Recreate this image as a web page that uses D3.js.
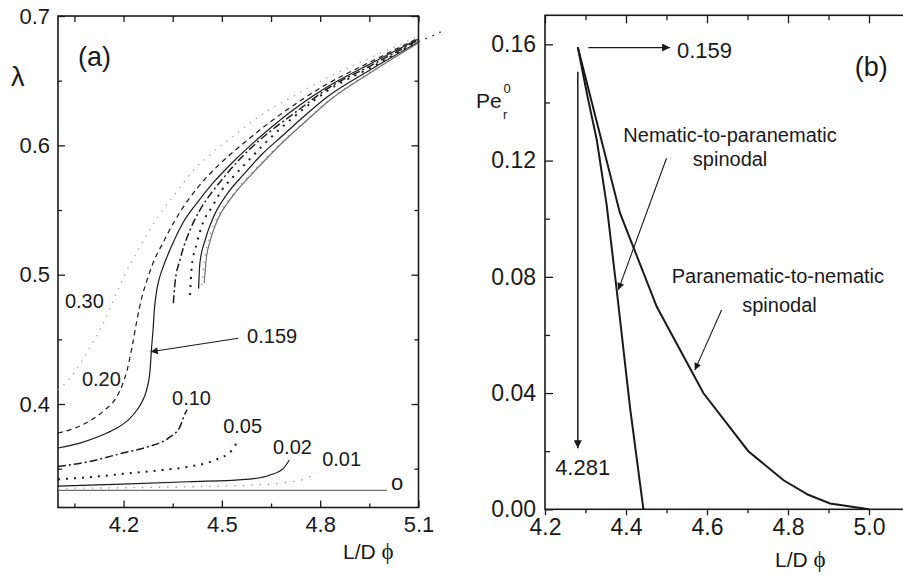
<!DOCTYPE html>
<html><head><meta charset="utf-8">
<script src="https://cdn.jsdelivr.net/npm/d3@7"></script>
<style>
body{margin:0;background:#fff}
svg{display:block}
text{font-family:"Liberation Sans",Arial,sans-serif;fill:#1a1a1a}
</style>
</head><body>
<svg id="c" width="903" height="580"></svg>
<script>
// ---------- Panel (a) data ----------
const xTicksA = [4.2, 4.5, 4.8, 5.1];
const xMinorA = [4.05, 4.35, 4.65, 4.95];
const yTicksA = [0.4, 0.5, 0.6, 0.7];
const yMinorA = [0.35, 0.45, 0.55, 0.65];

// Pe = 0.30 (light grey dotted)
const pe030_x = [4.000,4.037,4.067,4.098,4.128,4.153,4.180,4.208,4.238,4.272,4.311,4.357,4.409,4.470,4.540,4.616,4.708,4.821,4.952,5.100];
const pe030_y = [0.4108,0.4201,0.4309,0.4441,0.4572,0.4704,0.4866,0.5021,0.5160,0.5314,0.5469,0.5624,0.5794,0.5941,0.6080,0.6227,0.6366,0.6521,0.6675,0.6845];
// Pe = 0.20 (dashed)
const pe020_x = [4.000,4.052,4.101,4.146,4.177,4.195,4.211,4.226,4.241,4.256,4.269,4.290,4.320,4.354,4.397,4.446,4.500,4.571,4.616,4.738,4.821,4.952,5.100];
const pe020_y = [0.3776,0.3814,0.3876,0.3961,0.4046,0.4139,0.4263,0.4441,0.4650,0.4827,0.4936,0.5090,0.5245,0.5407,0.5577,0.5732,0.5871,0.6026,0.6119,0.6343,0.6474,0.6644,0.6830];
// Pe = 0.159 (solid)
const pe0159_x = [4.000,4.067,4.128,4.174,4.214,4.241,4.259,4.272,4.281,4.285,4.290,4.294,4.299,4.308,4.323,4.348,4.381,4.424,4.473,4.540,4.616,4.738,4.821,4.952,5.100];
const pe0159_y = [0.3660,0.3698,0.3753,0.3807,0.3876,0.3954,0.4031,0.4124,0.4263,0.4418,0.4572,0.4727,0.4843,0.4959,0.5075,0.5229,0.5400,0.5554,0.5709,0.5887,0.6064,0.6312,0.6451,0.6629,0.6822];
// Pe = 0.10 (dash-dot), lower and upper branch
const pe010lo_x = [4.000,4.092,4.195,4.275,4.336,4.372,4.388,4.394];
const pe010lo_y = [0.3517,0.3554,0.3619,0.3670,0.3735,0.3824,0.3928,0.3954];
const pe010up_x = [4.352,4.357,4.372,4.403,4.433,4.470,4.507,4.555,4.616,4.738,4.821,4.952,5.100];
const pe010up_y = [0.4779,0.4936,0.5113,0.5345,0.5500,0.5639,0.5755,0.5895,0.6041,0.6281,0.6436,0.6613,0.6815];
// Pe = 0.05 (dotted)
const pe005lo_x = [4.000,4.092,4.195,4.296,4.397,4.479,4.531,4.550];
const pe005lo_y = [0.3418,0.3433,0.3459,0.3484,0.3515,0.3567,0.3644,0.3722];
const pe005up_x = [4.403,4.408,4.424,4.442,4.470,4.500,4.534,4.577,4.623,4.738,4.821,4.952,5.100];
const pe005up_y = [0.4843,0.5059,0.5245,0.5400,0.5523,0.5655,0.5755,0.5871,0.5995,0.6258,0.6420,0.6598,0.6807];
// Pe = 0.02 (solid)
const pe002lo_x = [4.000,4.195,4.397,4.586,4.647,4.688,4.706];
const pe002lo_y = [0.3366,0.3381,0.3399,0.3420,0.3451,0.3503,0.3567];
const pe002up_x = [4.429,4.433,4.449,4.473,4.516,4.565,4.623,4.684,4.738,4.821,4.952,5.100];
const pe002up_y = [0.4893,0.5090,0.5268,0.5438,0.5624,0.5771,0.5933,0.6072,0.6196,0.6374,0.6583,0.6799];
// Pe = 0.01 (grey dotted)
const pe001lo_x = [4.000,4.296,4.601,4.688,4.749,4.789];
const pe001lo_y = [0.3348,0.3356,0.3374,0.3391,0.3418,0.3469];
const pe001up_x = [4.439,4.446,4.458,4.482,4.525,4.574,4.632,4.687,4.748,4.824,4.952,5.100];
const pe001up_y = [0.4920,0.5098,0.5253,0.5423,0.5593,0.5740,0.5894,0.6033,0.6173,0.6343,0.6567,0.6795];
// Pe = 0 (grey solid): isotropic line and nematic branch
const pe0lo_x = [4.000, 5.004];
const pe0lo_y = [0.3333, 0.3333];
const pe0up_x = [4.446,4.452,4.464,4.488,4.531,4.580,4.638,4.693,4.754,4.830,4.952,5.100];
const pe0up_y = [0.4936,0.5113,0.5260,0.5430,0.5601,0.5747,0.5902,0.6041,0.6181,0.6351,0.6559,0.6791];
// continuation beyond the frame (dotted)
const ext_x = [5.100, 5.181];
const ext_y = [0.6799, 0.6892];

const labelsA = ["0.30","0.20","0.159","0.10","0.05","0.02","0.01","o"];
const labelsA_x = [4.021,4.073,4.577,4.348,4.504,4.656,4.806,5.016];
const labelsA_y = [0.4742,0.4139,0.4472,0.3992,0.3776,0.3613,0.3521,0.3335];

// ---------- Panel (b) data ----------
const xTicksB = [4.2, 4.4, 4.6, 4.8, 5.0];
const xMinorB = [4.3, 4.5, 4.7, 4.9];
const yTicksB = [0.00, 0.04, 0.08, 0.12, 0.16];
const yMinorB = [0.02, 0.06, 0.10, 0.14];
// Nematic-to-paranematic spinodal
const n2p_x = [4.281,4.305,4.328,4.352,4.377,4.410,4.443];
const n2p_y = [0.159,0.142,0.127,0.105,0.0755,0.035,0.000];
// Paranematic-to-nematic spinodal
const p2n_x = [4.281,4.385,4.476,4.591,4.702,4.789,4.850,4.904,5.000];
const p2n_y = [0.159,0.102,0.0697,0.040,0.020,0.010,0.005,0.002,0.000];

// ---------- drawing ----------
const svg = d3.select("#c");
const ink = "#1a1a1a";
const serif = '"Liberation Serif","DejaVu Serif",serif';

const xA = d3.scaleLinear().domain([4.0, 5.1]).range([58, 418.5]);
const yA = d3.scaleLinear().domain([0.32, 0.7]).range([507.5, 16]);
const xB = d3.scaleLinear().domain([4.2, 5.1]).range([545, 909.5]);
const yB = d3.scaleLinear().domain([0, 0.17]).range([509.3, 15.3]);

function styleAxis(g, size) {
  g.select(".domain").remove();
  g.selectAll("line").attr("stroke", ink).attr("stroke-width", 1.3);
  g.selectAll("text").attr("font-size", size).attr("fill", ink)
    .attr("font-family", '"Liberation Sans",Arial,sans-serif');
}

// Panel A axes
const gA = svg.append("g");
const fmt1 = d3.format(".1f");
gA.append("g").attr("transform", `translate(0,${yA.range()[0]})`)
  .call(d3.axisBottom(xA).tickValues(xTicksA).tickSize(-7).tickPadding(9).tickFormat(fmt1))
  .call(g => styleAxis(g, 22));
gA.append("g").attr("transform", `translate(0,${yA.range()[0]})`)
  .call(d3.axisBottom(xA).tickValues(xMinorA).tickSize(-4).tickFormat(""))
  .call(g => styleAxis(g, 22));
gA.append("g").attr("transform", `translate(0,${yA.range()[1]})`)
  .call(d3.axisTop(xA).tickValues(xTicksA.concat(xMinorA)).tickSize(-6).tickFormat(""))
  .call(g => styleAxis(g, 22));
gA.append("g").attr("transform", `translate(${xA.range()[0]},0)`)
  .call(d3.axisLeft(yA).tickValues(yTicksA).tickSize(-7).tickPadding(8).tickFormat(fmt1))
  .call(g => styleAxis(g, 22));
gA.append("g").attr("transform", `translate(${xA.range()[0]},0)`)
  .call(d3.axisLeft(yA).tickValues(yMinorA).tickSize(-4).tickFormat(""))
  .call(g => styleAxis(g, 22));
gA.append("g").attr("transform", `translate(${xA.range()[1]},0)`)
  .call(d3.axisRight(yA).tickValues(yTicksA).tickSize(-7).tickFormat(""))
  .call(g => styleAxis(g, 22));
gA.append("g").attr("transform", `translate(${xA.range()[1]},0)`)
  .call(d3.axisRight(yA).tickValues(yMinorA).tickSize(-4).tickFormat(""))
  .call(g => styleAxis(g, 22));
gA.append("rect").attr("x", xA.range()[0]).attr("y", yA.range()[1])
  .attr("width", xA.range()[1] - xA.range()[0]).attr("height", yA.range()[0] - yA.range()[1])
  .attr("fill", "none").attr("stroke", ink).attr("stroke-width", 1.6);

const lineA = d3.line().x(d => xA(d[0])).y(d => yA(d[1])).curve(d3.curveMonotoneX);
const zip = (xs, ys) => xs.map((v, i) => [v, ys[i]]);

const seriesA = [
  {x: pe030_x, y: pe030_y, c: "#a8a8a8", w: 1.3, d: "1.4,6"},
  {x: pe020_x, y: pe020_y, c: ink, w: 1.2, d: "5,4"},
  {x: pe0159_x, y: pe0159_y, c: ink, w: 1.2, d: null},
  {x: pe010lo_x, y: pe010lo_y, c: ink, w: 1.5, d: "8,3,2,3"},
  {x: pe010up_x, y: pe010up_y, c: ink, w: 1.5, d: "8,3,2,3"},
  {x: pe005lo_x, y: pe005lo_y, c: ink, w: 2, d: "2,6"},
  {x: pe005up_x, y: pe005up_y, c: ink, w: 2, d: "2,6"},
  {x: pe002lo_x, y: pe002lo_y, c: ink, w: 1.2, d: null},
  {x: pe002up_x, y: pe002up_y, c: ink, w: 1.2, d: null},
  {x: pe001lo_x, y: pe001lo_y, c: "#9a9a9a", w: 1.3, d: "1.4,7"},
  {x: pe001up_x, y: pe001up_y, c: "#9a9a9a", w: 1.3, d: "1.4,6"},
  {x: pe0lo_x, y: pe0lo_y, c: "#6f6f6f", w: 1.3, d: null},
  {x: pe0up_x, y: pe0up_y, c: "#6f6f6f", w: 1.2, d: null},
  {x: ext_x, y: ext_y, c: "#333", w: 1.5, d: "1.6,6"}
];
seriesA.forEach(s => {
  gA.append("path").attr("d", lineA(zip(s.x, s.y)))
    .attr("fill", "none").attr("stroke", s.c).attr("stroke-width", s.w)
    .attr("stroke-dasharray", s.d);
});

// arrow markers
const defs = svg.append("defs");
defs.append("marker").attr("id", "ah").attr("viewBox", "0 0 10 10")
  .attr("refX", 10).attr("refY", 5).attr("markerWidth", 10).attr("markerHeight", 7)
  .attr("markerUnits", "userSpaceOnUse").attr("orient", "auto")
  .append("path").attr("d", "M0,0 L10,5 L0,10 z").attr("fill", ink);
defs.append("marker").attr("id", "ahb").attr("viewBox", "0 0 10 10")
  .attr("refX", 10).attr("refY", 5).attr("markerWidth", 13).attr("markerHeight", 8)
  .attr("markerUnits", "userSpaceOnUse").attr("orient", "auto")
  .append("path").attr("d", "M0,0 L10,5 L0,10 z").attr("fill", ink);

gA.append("line").attr("x1", xA(4.550)).attr("y1", yA(0.4508))
  .attr("x2", xA(4.283)).attr("y2", yA(0.4404))
  .attr("stroke", ink).attr("stroke-width", 1.1).attr("marker-end", "url(#ah)");

labelsA.forEach((t, i) => {
  gA.append("text").attr("x", xA(labelsA_x[i])).attr("y", yA(labelsA_y[i]))
    .attr("font-size", t === "o" ? 22 : 20).text(t);
});
gA.append("text").attr("x", 78).attr("y", 66).attr("font-size", 27).text("(a)");
gA.append("text").attr("x", 11).attr("y", 86).attr("font-size", 27)
  .attr("font-family", serif).text("λ");
const tA = gA.append("text").attr("x", 343).attr("y", 559).attr("font-size", 21);
tA.append("tspan").text("L/D ");
tA.append("tspan").attr("font-family", serif).attr("font-size", 23).text("ϕ");

// Panel B axes
const gB = svg.append("g");
const fmt2 = d3.format(".2f");
gB.append("g").attr("transform", `translate(0,${yB.range()[0]})`)
  .call(d3.axisBottom(xB).tickValues(xTicksB).tickSize(6).tickPadding(3).tickFormat(fmt1))
  .call(g => styleAxis(g, 23));
gB.append("g").attr("transform", `translate(0,${yB.range()[0]})`)
  .call(d3.axisBottom(xB).tickValues(xMinorB).tickSize(4).tickFormat(""))
  .call(g => styleAxis(g, 23));
gB.append("g").attr("transform", `translate(0,${yB.range()[1]})`)
  .call(d3.axisTop(xB).tickValues(xTicksB).tickSize(-8).tickFormat(""))
  .call(g => styleAxis(g, 23));
gB.append("g").attr("transform", `translate(0,${yB.range()[1]})`)
  .call(d3.axisTop(xB).tickValues(xMinorB).tickSize(-5).tickFormat(""))
  .call(g => styleAxis(g, 23));
gB.append("g").attr("transform", `translate(${xB.range()[0]},0)`)
  .call(d3.axisLeft(yB).tickValues(yTicksB).tickSize(-8).tickPadding(9).tickFormat(fmt2))
  .call(g => styleAxis(g, 23));
gB.append("g").attr("transform", `translate(${xB.range()[0]},0)`)
  .call(d3.axisLeft(yB).tickValues(yMinorB).tickSize(-5).tickFormat(""))
  .call(g => styleAxis(g, 23));
gB.append("rect").attr("x", xB.range()[0]).attr("y", yB.range()[1])
  .attr("width", xB.range()[1] - xB.range()[0]).attr("height", yB.range()[0] - yB.range()[1])
  .attr("fill", "none").attr("stroke", ink).attr("stroke-width", 1.6);

const lineB = d3.line().x(d => xB(d[0])).y(d => yB(d[1]));
gB.append("path").attr("d", lineB(zip(n2p_x, n2p_y)))
  .attr("fill", "none").attr("stroke", ink).attr("stroke-width", 2);
gB.append("path").attr("d", lineB(zip(p2n_x, p2n_y)))
  .attr("fill", "none").attr("stroke", ink).attr("stroke-width", 2);

// annotations panel B
gB.append("line").attr("x1", xB(4.307)).attr("y1", yB(0.1589)).attr("x2", xB(4.509)).attr("y2", yB(0.1589))
  .attr("stroke", ink).attr("stroke-width", 1.3).attr("marker-end", "url(#ahb)");
gB.append("text").attr("x", xB(4.526)).attr("y", yB(0.1553)).attr("font-size", 22).text("0.159");
gB.append("line").attr("x1", xB(4.281)).attr("y1", yB(0.1506)).attr("x2", xB(4.281)).attr("y2", yB(0.021))
  .attr("stroke", ink).attr("stroke-width", 1.5).attr("marker-end", "url(#ahb)");
gB.append("text").attr("x", xB(4.225)).attr("y", yB(0.0118)).attr("font-size", 22).text("4.281");
gB.append("text").attr("x", xB(4.965)).attr("y", yB(0.1491)).attr("font-size", 27).text("(b)");

gB.append("text").attr("x", xB(4.657)).attr("y", yB(0.1265)).attr("font-size", 20)
  .attr("text-anchor", "middle").text("Nematic-to-paranematic");
gB.append("text").attr("x", xB(4.657)).attr("y", yB(0.1182)).attr("font-size", 20)
  .attr("text-anchor", "middle").text("spinodal");
gB.append("line").attr("x1", xB(4.500)).attr("y1", yB(0.1208)).attr("x2", xB(4.381)).attr("y2", yB(0.0755))
  .attr("stroke", ink).attr("stroke-width", 1.1).attr("marker-end", "url(#ah)");

gB.append("text").attr("x", xB(4.775)).attr("y", yB(0.0779)).attr("font-size", 20)
  .attr("text-anchor", "middle").text("Paranematic-to-nematic");
gB.append("text").attr("x", xB(4.779)).attr("y", yB(0.0679)).attr("font-size", 20)
  .attr("text-anchor", "middle").text("spinodal");
gB.append("line").attr("x1", xB(4.636)).attr("y1", yB(0.0686)).attr("x2", xB(4.570)).attr("y2", yB(0.0479))
  .attr("stroke", ink).attr("stroke-width", 1.1).attr("marker-end", "url(#ah)");

// y title Pe_r^0
gB.append("text").attr("x", 476).attr("y", 108).attr("font-size", 21).text("Pe");
gB.append("text").attr("x", 503.5).attr("y", 93).attr("font-size", 13).text("0");
gB.append("text").attr("x", 503).attr("y", 119).attr("font-size", 13).text("r");
const tB = gB.append("text").attr("x", 775).attr("y", 567).attr("font-size", 21);
tB.append("tspan").text("L/D ");
tB.append("tspan").attr("font-family", serif).attr("font-size", 23).text("ϕ");
</script>
</body></html>
